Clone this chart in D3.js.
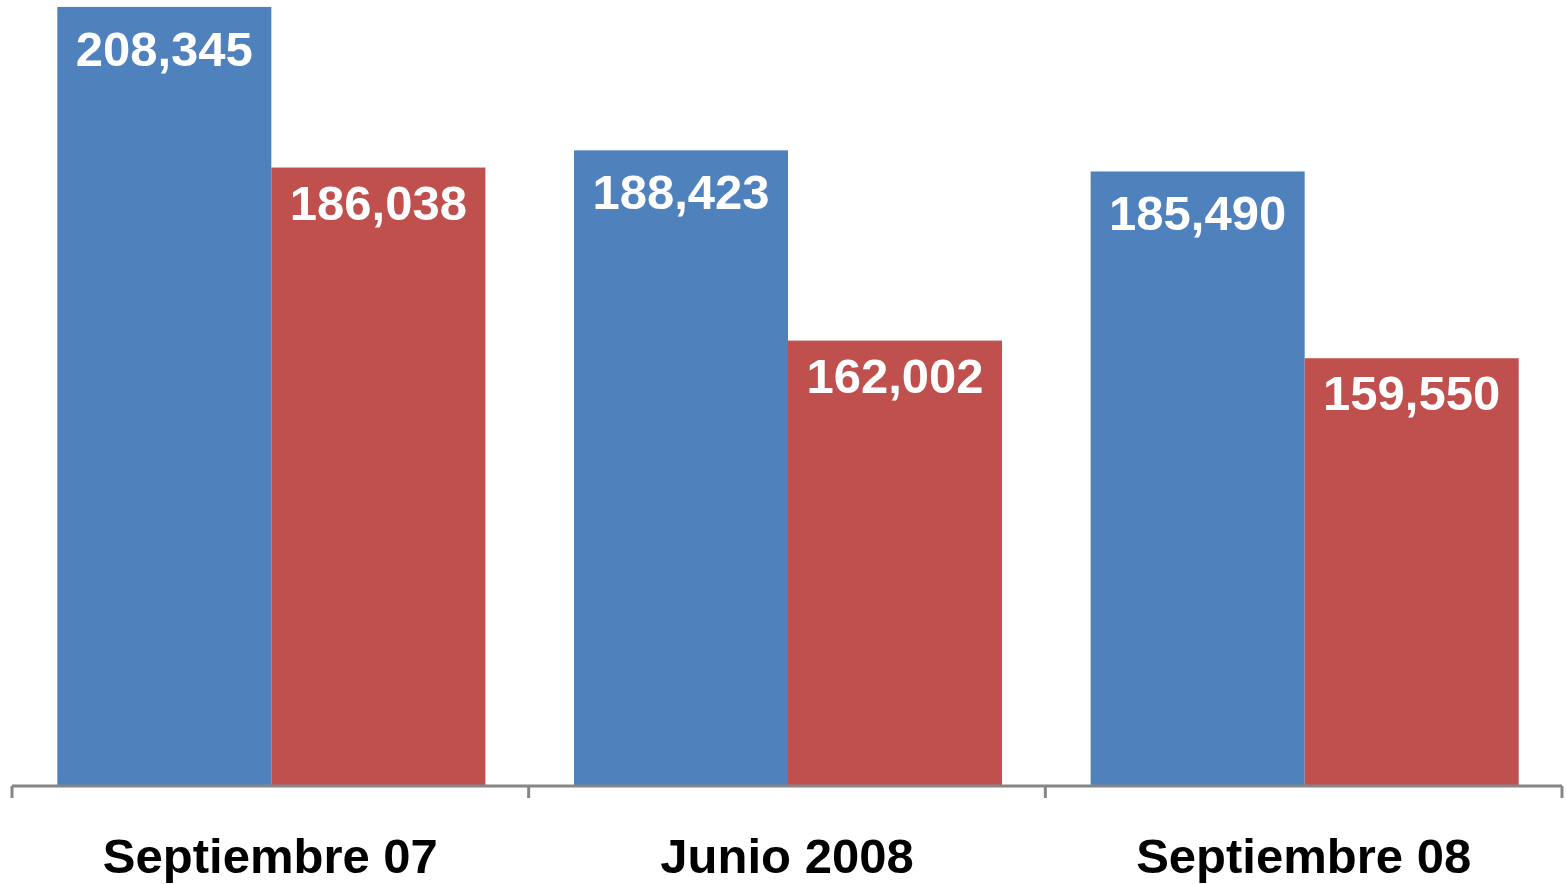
<!DOCTYPE html>
<meta charset="utf-8">
<title>Septiembre 07 - Septiembre 08</title>
<style>
    body { margin: 0; background: #fff; }
    svg { display: block; font-family: "Liberation Sans", Arial, sans-serif; }
</style>
<svg width="1566" height="884"></svg>
<script src="https://d3js.org/d3.v7.min.js"></script>
<script>

    var categories = ["Septiembre 07", "Junio 2008", "Septiembre 08"];
    var seriesNames = ["serie1", "serie2"];
    var serie1 = [208345, 188423, 185490];
    var serie2 = [186038, 162002, 159550];
    var colors = ["#4F81BD", "#C0504D"];

    var data = categories.map(function(c, i) {
        return { cat: c, values: [serie1[i], serie2[i]] };
    });

    var svg = d3.select("svg");

    var baseY = 787;
    var labelOffset = [59, 52]; // distancia de la etiqueta al borde de la barra

    var x0 = d3.scaleBand()
        .domain(categories)
        .range([12, 1562]);

    var x1 = d3.scaleBand()
        .domain(d3.range(seriesNames.length))
        .range([1, x0.bandwidth() + 1])
        .paddingOuter(0.207);

    // eje Y sin mostrar, no empieza en cero
    var y = d3.scaleLinear()
        .domain([100000, 210000])
        .range([baseY, baseY - 110000 * 0.0072]);

    var groups = svg.selectAll("g.grupo")
        .data(data)
        .enter().append("g")
        .attr("class", "grupo")
        .attr("transform", function(d) { return "translate(" + x0(d.cat) + ",0)"; });

    groups.selectAll("rect")
        .data(function(d) { return d.values; })
        .enter().append("rect")
        .attr("x", function(d, i) { return x1(i); })
        .attr("y", function(d) { return y(d); })
        .attr("width", x1.bandwidth())
        .attr("height", function(d) { return baseY - y(d); })
        .attr("fill", function(d, i) { return colors[i]; });

    groups.selectAll("text.valor")
        .data(function(d) { return d.values; })
        .enter().append("text")
        .attr("class", "valor")
        .attr("x", function(d, i) { return x1(i) + x1.bandwidth() / 2; })
        .attr("y", function(d, i) { return y(d) + labelOffset[i]; })
        .attr("text-anchor", "middle")
        .attr("fill", "#fff")
        .style("font-weight", "bold")
        .style("font-size", "49px")
        .text(d3.format(","));

    // eje X
    var xAxis = d3.axisBottom(x0).tickSize(0).tickPadding(0);
    var ax = svg.append("g")
        .attr("transform", "translate(0," + 786 + ")")
        .call(xAxis);

    ax.select(".domain").remove();
    ax.selectAll(".tick line").remove();

    ax.append("line")
        .attr("x1", 12).attr("x2", 1562)
        .attr("y1", 0).attr("y2", 0)
        .attr("stroke", "#868686")
        .attr("stroke-width", 3);

    var bounds = categories.map(function(c) { return x0(c); }).concat([x0.range()[1]]);
    ax.selectAll("line.marca")
        .data(bounds)
        .enter().append("line")
        .attr("class", "marca")
        .attr("x1", function(d) { return d; })
        .attr("x2", function(d) { return d; })
        .attr("y1", 0).attr("y2", 12)
        .attr("stroke", "#868686")
        .attr("stroke-width", 3);

    ax.selectAll(".tick text")
        .attr("y", 87)
        .attr("dy", 0)
        .attr("fill", "#000")
        .style("font-family", "'Liberation Sans', Arial, sans-serif")
        .style("font-weight", "bold")
        .style("font-size", "49px");

</script>
